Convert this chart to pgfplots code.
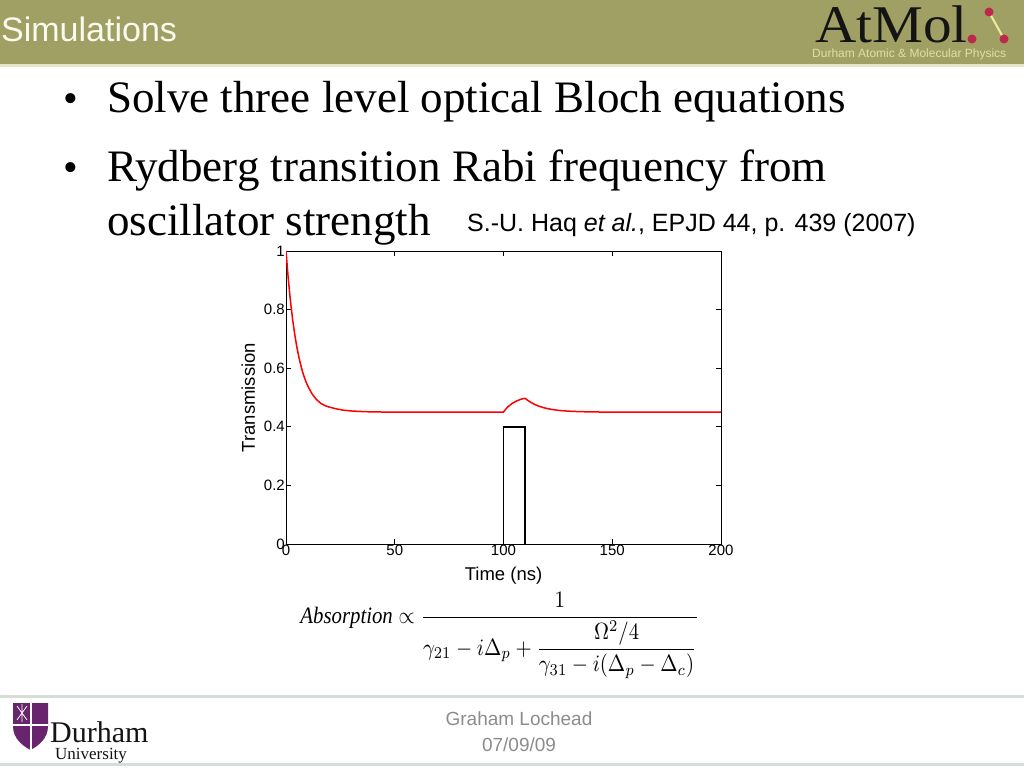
\documentclass[border=0pt]{standalone}
\usepackage{fontspec}
\setmainfont{Liberation Serif}
\newfontfamily\arial{Liberation Sans}
\usepackage{pgfplots}
\pgfplotsset{compat=1.18}
\definecolor{hdrolive}{RGB}{160,160,100}
\definecolor{hdrlight}{RGB}{230,230,200}
\definecolor{footline}{RGB}{213,221,216}
\definecolor{footgray}{RGB}{140,140,140}
\definecolor{durhampurple}{RGB}{104,36,109}
\definecolor{atdot}{RGB}{190,40,75}
\definecolor{atline}{RGB}{240,235,150}
\definecolor{atsub}{RGB}{225,222,165}
\definecolor{textblack}{RGB}{20,20,20}
\definecolor{hdrwhite}{RGB}{250,250,240}
\begin{document}
\begin{tikzpicture}
\begin{scope}[x=1pt,y=1pt]
\fill[white] (0,0) rectangle (1024,768);
% header
\fill[hdrolive] (0,704) rectangle (1024,768);
\fill[hdrlight] (0,701) rectangle (1024,704);
\node[anchor=base west, inner sep=0, text=hdrwhite, font=\arial\fontsize{34}{34}\selectfont] at (1,726) {Simulations};
% AtMol logo
\node[anchor=base west, inner sep=0, text=textblack, font=\fontsize{53}{53}\selectfont, xscale=1.08] at (815,725) {AtMol};
\draw[atline, line width=2pt] (989,756) -- (1004,729);
\fill[atdot] (972,729) circle (4.5);
\fill[atdot] (989,756) circle (4.5);
\fill[atdot] (1004,729) circle (4.5);
\node[anchor=base west, inner sep=0, text=atsub, font=\arial\fontsize{12}{12}\selectfont] at (812,710) {Durham Atomic \& Molecular Physics};
% bullets
\node[anchor=base west, inner sep=0, text=black, font=\fontsize{42}{54}\selectfont] at (63,655) {•};
\node[anchor=base west, inner sep=0, text=black, font=\fontsize{45}{54}\selectfont] at (107,655) {Solve three level optical Bloch equations};
\node[anchor=base west, inner sep=0, text=black, font=\fontsize{42}{54}\selectfont] at (63,586) {•};
\node[anchor=base west, inner sep=0, text=black, font=\fontsize{45}{54}\selectfont] at (107,586) {Rydberg transition Rabi frequency from};
\node[anchor=base west, inner sep=0, text=black, font=\fontsize{45}{54}\selectfont] at (107,532) {oscillator strength};
\node[anchor=base west, inner sep=0, text=black, font=\arial\fontsize{25}{25}\selectfont] at (467,536) {S.-U. Haq \textit{et al.}, EPJD 44, p. 439 (2007)};
% formula
\node[anchor=base west, inner sep=0, xscale=2.08, yscale=2.35] at (300,145) {$\displaystyle \mathit{Absorption}\propto\frac{1}{\gamma_{21}-i\Delta_p+\displaystyle\frac{\Omega^2/4}{\gamma_{31}-i(\Delta_p-\Delta_c)}}$};
% footer
\fill[footline] (0,70) rectangle (1024,73);
\fill[footline] (0,2) rectangle (1024,5);
\node[inner sep=0, text=footgray, font=\arial\fontsize{19}{19}\selectfont] at (519,49) {Graham Lochead};
\node[inner sep=0, text=footgray, font=\arial\fontsize{19}{19}\selectfont] at (519,23) {07/09/09};
% Durham shield
\fill[durhampurple] (13,65) -- (48,65) -- (48,42) .. controls (48,29) and (38,22) .. (30.5,18) .. controls (23,22) and (13,29) .. (13,42) -- cycle;
\draw[white, line width=2.2pt] (31,65) -- (31,18);
\draw[white, line width=2.2pt] (13,43) -- (48,43);
\draw[white, line width=0.8pt] (17,62) -- (27,48) (27,62) -- (17,48) (22,64) -- (22,46);
\node[anchor=base west, inner sep=0, text=textblack, font=\fontsize{30}{30}\selectfont] at (50,26) {Durham};
\node[anchor=base west, inner sep=0, text=textblack, font=\fontsize{17}{17}\selectfont] at (55,9) {University};
\end{scope}
\begin{axis}[
 at={(286pt,224pt)}, anchor=south west,
 scale only axis, width=435pt, height=293pt,
 xmin=0, xmax=200, ymin=0, ymax=1,
 xtick={0,50,100,150,200}, ytick={0,0.2,0.4,0.6,0.8,1},
 tick align=inside, major tick length=5pt,
 tick style={black, line width=0.6pt},
 axis line style={black, line width=0.9pt},
 /pgf/number format/assume math mode=true,
 tick label style={font=\arial\fontsize{15}{15}\selectfont, text=black},
 yticklabel style={/pgf/number format/fixed, /pgf/number format/precision=1, inner sep=1pt},
 xticklabel style={inner sep=1pt},
 xlabel={Time (ns)}, ylabel={Transmission},
 label style={font=\arial\fontsize{18.5}{18.5}\selectfont},
 xlabel style={at={(axis description cs:0.5,-0.123)}, anchor=base},
 ylabel style={at={(axis description cs:-0.087,0.5)}, anchor=center},
]
\addplot[red, line width=1.5pt] coordinates {
(0,1.0)(1,0.9086)(2,0.8323)(3,0.7688)(4,0.7158)(5,0.6716)(6,0.6347)(7,0.6040)(8,0.5784)(9,0.5571)(10,0.5393)(12,0.5120)(14,0.4931)(16,0.4800)(18,0.4720)(20,0.4670)(23,0.4615)(26,0.4570)(30,0.4540)(35,0.4520)(40,0.4508)(50,0.4500)(70,0.4500)(100,0.4500)
(101,0.460)(102,0.468)(103,0.474)(104,0.480)(105,0.484)(106,0.488)(107,0.491)(108,0.494)(109,0.496)(110,0.497)
(111,0.4911)(112,0.4860)(114,0.4775)(116,0.4711)(118,0.4662)(120,0.4624)(123,0.4583)(126,0.4556)(130,0.4533)(135,0.4517)(140,0.4509)(145,0.4504)(150,0.4500)(175,0.4500)(200,0.4500)};
\addplot[black, line width=1.6pt] coordinates {(100,0)(100,0.4)(110,0.4)(110,0)};
\end{axis}
\end{tikzpicture}
\end{document}
